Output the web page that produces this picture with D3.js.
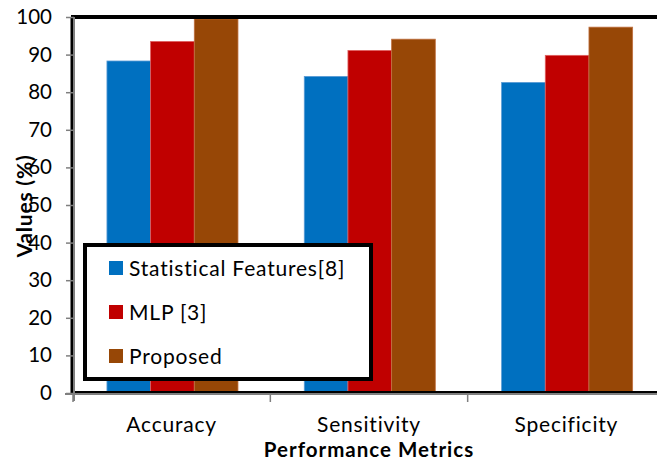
<!DOCTYPE html>
<html>
<head>
<meta charset="utf-8">
<script src="https://cdn.jsdelivr.net/npm/d3@7"></script>
<style>
html,body{margin:0;padding:0;background:#fff;}
svg{display:block;font-family:Lato,"Open Sans",sans-serif;}
</style>
</head>
<body>
<svg id="chart" width="657" height="460"></svg>
<script>
const categories = ["Accuracy", "Sensitivity", "Specificity"];
const seriesNames = ["Statistical Features[8]", "MLP [3]", "Proposed"];
const statistical = [88.3, 84.2, 82.6];
const mlp = [93.5, 91.1, 89.8];
const proposed = [99.5, 94.1, 97.3];
const yTicks = [0, 10, 20, 30, 40, 50, 60, 70, 80, 90, 100];
const colors = ["#0070C0", "#C00000", "#974706"];
const strokes = ["#5B9BD5", "#E06060", "#C07040"];

(function () {
const seriesValues = [statistical, mlp, proposed];
const svg = d3.select("#chart");
const pLeft = 73, pRight = 665, pTop = 17, pBottom = 393;

const x = d3.scaleBand().domain(categories).range([pLeft, pRight]).padding(0);
const xs = d3.scaleBand().domain(seriesNames)
  .range([x.bandwidth() * 0.172, x.bandwidth() * 0.836]).padding(0);
const y = d3.scaleLinear().domain([0, 100]).range([pBottom, pTop]);

// bars
categories.forEach((c, i) => {
  const g = svg.append("g").attr("transform", `translate(${x(c)},0)`);
  seriesNames.forEach((s, j) => {
    const v = seriesValues[j][i];
    g.append("rect")
      .attr("x", xs(s)).attr("width", xs.bandwidth())
      .attr("y", y(v)).attr("height", y(0) - y(v))
      .attr("fill", colors[j]).attr("stroke", strokes[j]).attr("stroke-width", 0.8);
  });
});

// plot border lines (black)
svg.append("line").attr("x1", pLeft - 2).attr("x2", 657).attr("y1", pTop).attr("y2", pTop)
  .attr("stroke", "#000").attr("stroke-width", 4);
svg.append("line").attr("x1", pLeft - 1).attr("x2", pLeft - 1).attr("y1", pTop).attr("y2", pBottom)
  .attr("stroke", "#000").attr("stroke-width", 3);
svg.append("line").attr("x1", pLeft).attr("x2", 657).attr("y1", pBottom - 1).attr("y2", pBottom - 1)
  .attr("stroke", "#000").attr("stroke-width", 2);

// y axis
const yAxis = d3.axisLeft(y).tickValues(yTicks).tickSize(8).tickPadding(14);
const ya = svg.append("g").attr("transform", `translate(${pLeft + 1},0)`).call(yAxis);
ya.select(".domain").attr("stroke", "#7f7f7f").attr("stroke-width", 2)
  .attr("d", `M0,${pTop}V${pBottom + 8}`);
ya.selectAll(".tick line").attr("stroke", "#7f7f7f").attr("stroke-width", 1.5);
ya.selectAll(".tick text").attr("font-size", 20.5).attr("fill", "#000")
  .attr("font-family", "Lato, 'Open Sans', sans-serif");

// x axis
const xAxis = d3.axisBottom(x).tickSize(0).tickPadding(23);
const xa = svg.append("g").attr("transform", `translate(0,${pBottom + 1})`).call(xAxis);
xa.select(".domain").attr("stroke", "#7f7f7f").attr("stroke-width", 2)
  .attr("d", `M${pLeft - 8},0H${pRight}`);
xa.selectAll(".tick text").attr("font-size", 21).attr("fill", "#000")
  .attr("letter-spacing", 0.8)
  .attr("font-family", "Lato, 'Open Sans', sans-serif");
const bounds = categories.map(c => x(c)).concat([x(categories[2]) + x.bandwidth()]);
xa.selectAll(".bt").data(bounds).enter().append("line")
  .attr("x1", d => d).attr("x2", d => d).attr("y1", 0).attr("y2", 8)
  .attr("stroke", "#7f7f7f").attr("stroke-width", 1.5);

// axis titles
svg.append("text").attr("x", 369).attr("y", 457).attr("text-anchor", "middle")
  .attr("font-size", 20.5).attr("font-weight", "bold").attr("letter-spacing", 1)
  .text("Performance Metrics");
svg.append("text").attr("transform", "translate(32,206) rotate(-90)")
  .attr("text-anchor", "middle").attr("font-size", 21).attr("font-weight", "bold")
  .attr("letter-spacing", 0.8)
  .text("Values (%)");

// legend
const lg = svg.append("g");
lg.append("rect").attr("x", 85).attr("y", 245).attr("width", 286).attr("height", 134)
  .attr("fill", "#fff").attr("stroke", "#000").attr("stroke-width", 4);
seriesNames.forEach((s, j) => {
  const cy = 268 + j * 44;
  lg.append("rect").attr("x", 109).attr("y", cy - 7).attr("width", 14).attr("height", 14)
    .attr("fill", colors[j]);
  lg.append("text").attr("x", 129).attr("y", cy + 8).attr("font-size", 21)
    .attr("letter-spacing", 0.8).text(s);
});
})();
</script>
</body>
</html>
